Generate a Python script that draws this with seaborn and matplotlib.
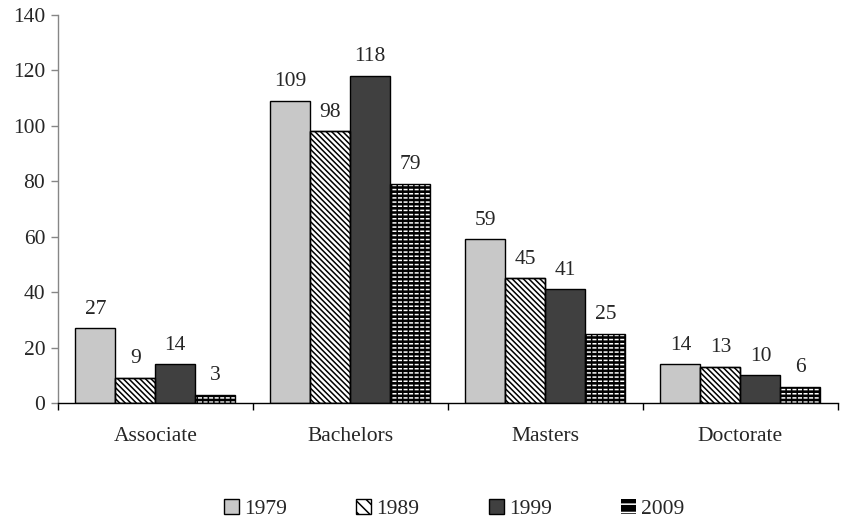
import matplotlib
matplotlib.use("Agg")
import matplotlib.pyplot as plt
from matplotlib.patches import Rectangle, Patch
import seaborn as sns
import pandas as pd

levels = ["Associate", "Bachelors", "Masters", "Doctorate"]
years = ["1979", "1989", "1999", "2009"]
v1979 = [27, 109, 59, 14]
v1989 = [9, 98, 45, 13]
v1999 = [14, 118, 41, 10]
v2009 = [3, 79, 25, 6]

series = {"1979": v1979, "1989": v1989, "1999": v1999, "2009": v2009}
df = pd.DataFrame(
    [(lvl, yr, vals[i]) for yr, vals in series.items() for i, lvl in enumerate(levels)],
    columns=["level", "year", "count"],
)

sns.set_style("white")
plt.rcParams["font.family"] = ["Liberation Serif", "DejaVu Serif"]
plt.rcParams["hatch.linewidth"] = 1.1

FS = 15.5

fig = plt.figure(figsize=(8.49, 5.27), dpi=100)
ax = fig.add_axes([0.068, 0.235, 0.919, 0.737])

sns.barplot(data=df, x="level", y="count", hue="year", order=levels,
            hue_order=years, width=0.82, dodge=True, ax=ax, legend=False,
            errorbar=None)

styles = {
    "1979": dict(facecolor="#c8c8c8", edgecolor="black", hatch=None),
    "1989": dict(facecolor="white", edgecolor="black", hatch="\\" * 6),
    "1999": dict(facecolor="#404040", edgecolor="black", hatch=None),
    "2009": dict(facecolor="black", edgecolor="white", hatch="----"),
}

for container, yr in zip(ax.containers, years):
    st = styles[yr]
    for patch, val in zip(container.patches, series[yr]):
        patch.set_facecolor(st["facecolor"])
        patch.set_edgecolor(st["edgecolor"])
        patch.set_linewidth(1.0 if yr != "2009" else 0)
        if st["hatch"]:
            patch.set_hatch(st["hatch"])
        z = patch.get_zorder()
        if yr == "2009":
            # break the white rows into short dashes
            ax.add_patch(Rectangle(patch.get_xy(), patch.get_width(), patch.get_height(),
                                   facecolor="none", edgecolor="black", hatch="|||",
                                   linewidth=0, zorder=z + 0.05))
        if yr in ("1989", "2009"):
            ax.add_patch(Rectangle(patch.get_xy(), patch.get_width(), patch.get_height(),
                                   facecolor="none", edgecolor="black", linewidth=1.0,
                                   zorder=z + 0.1))
        ax.annotate(str(val), (patch.get_x() + patch.get_width() / 2, val),
                    xytext=(0, 7), textcoords="offset points",
                    ha="center", va="bottom", fontsize=FS)

ax.set_ylim(0, 140)
ax.set_xlim(-0.5, 3.5)
ax.set_yticks(range(0, 141, 20))
ax.set_xlabel("")
ax.set_ylabel("")
ax.tick_params(axis="y", labelsize=FS, length=5, color="#868686", left=True, width=1, pad=4)
ax.tick_params(axis="x", labelsize=FS, length=0, pad=17)
ax.set_xticks([-0.5, 0.5, 1.5, 2.5, 3.5], minor=True)
ax.tick_params(axis="x", which="minor", length=5, color="black", bottom=True, width=1)

for side in ("top", "right"):
    ax.spines[side].set_visible(False)
ax.spines["left"].set_color("#868686")
ax.spines["bottom"].set_color("black")
ax.spines["left"].set_linewidth(1)
ax.spines["bottom"].set_linewidth(1)

handles = []
for yr in years:
    st = styles[yr]
    if yr == "2009":
        h = Patch(facecolor="black", edgecolor="white", hatch="--", linewidth=0)
    else:
        h = Patch(facecolor=st["facecolor"], edgecolor="black",
                  hatch=("\\\\\\" if st["hatch"] else None), linewidth=1)
    handles.append(h)

fig.legend(handles, years, loc="lower center", bbox_to_anchor=(0.535, -0.022),
           ncol=4, frameon=False, fontsize=FS, handlelength=0.7, handleheight=0.7,
           handletextpad=0.25, columnspacing=3.2)

fig.savefig("out.png", dpi=100)
